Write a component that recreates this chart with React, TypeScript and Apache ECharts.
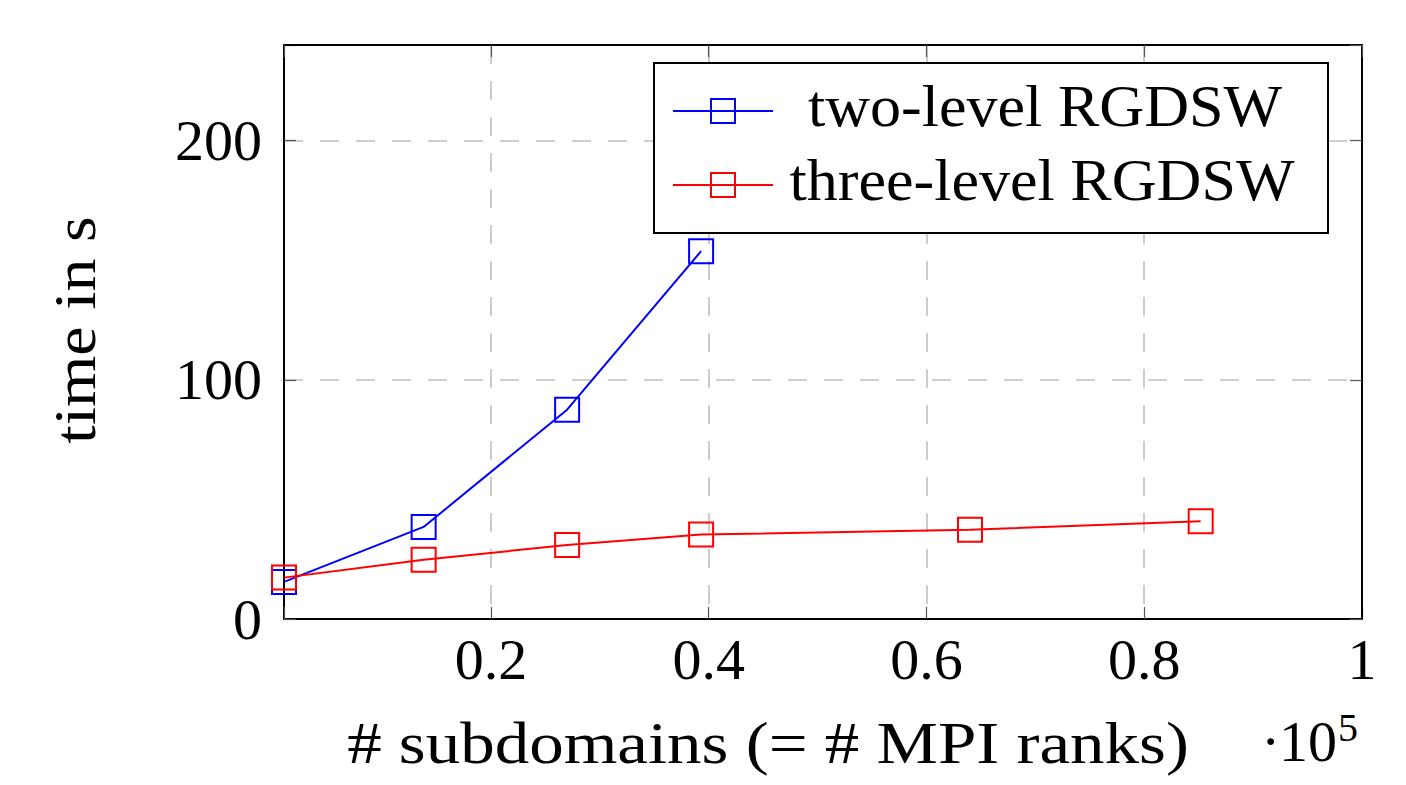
import React, { useEffect, useRef } from "react";
import * as echarts from "echarts";

// ---- data ----
const subdomainsTwoLevel = [1000, 13824, 27000, 39304];
const timeTwoLevel = [15.5, 38.5, 87.5, 153.8];
const subdomainsThreeLevel = [1000, 13824, 27000, 39304, 64000, 85184];
const timeThreeLevel = [17.3, 24.8, 30.9, 35.3, 37.3, 40.9];
const seriesNames = ["two-level RGDSW", "three-level RGDSW"];
const seriesColors = ["#0000ff", "#ff0000"];
const xAxisTitle = "# subdomains (= # MPI ranks)";
const yAxisTitle = "time in s";
const xMin = 1000;
const xMax = 100000;
const xStep = 20000;
const yMin = 0;
const yMax = 240;
const yStep = 100;

const FONT = "'Liberation Serif', 'Times New Roman', serif";

export default function App() {
  const ref = useRef<HTMLDivElement>(null);
  useEffect(() => {
    if (!ref.current) return;
    const chart = echarts.init(ref.current, undefined, { renderer: "svg" });
    const pairs = (xs: number[], ys: number[]) => xs.map((x, i) => [x, ys[i]]);
    const tick = { show: true, inside: true, length: 12, lineStyle: { color: "#555", width: 1.2 } };
    const axLine = { show: true, onZero: false, lineStyle: { color: "#000", width: 2 } };
    const grid = { show: true, lineStyle: { color: "#c0c0c0", width: 1.6, type: [19, 17] } };
    const mkSeries = (name: string, xs: number[], ys: number[], color: string) => ({
      name,
      type: "line",
      data: pairs(xs, ys),
      symbol: "rect",
      symbolSize: 24,
      showSymbol: true,
      lineStyle: { color, width: 2 },
      itemStyle: { color: "rgba(0,0,0,0)", borderColor: color, borderWidth: 2 },
      emphasis: { disabled: true },
      z: 3,
    });
    const legendRows = [111, 185];
    const legendTextCenters = [1045, 1042];
    const legendGraphics: any[] = [
      {
        type: "rect",
        shape: { x: 654, y: 63, width: 674, height: 170 },
        style: { fill: "#fff", stroke: "#000", lineWidth: 2 },
        z: 100,
      },
    ];
    seriesNames.forEach((n, i) => {
      const y = legendRows[i];
      legendGraphics.push(
        { type: "line", shape: { x1: 673, y1: y, x2: 773, y2: y }, style: { stroke: seriesColors[i], lineWidth: 2 }, z: 101 },
        { type: "rect", shape: { x: 711, y: y - 12, width: 24, height: 24 }, style: { fill: "none", stroke: seriesColors[i], lineWidth: 2 }, z: 102 },
        {
          type: "text",
          x: legendTextCenters[i],
          y: y - 5,
          scaleX: 1.035,
          style: { text: n, font: `60px ${FONT}`, fill: "#000", textAlign: "center", textVerticalAlign: "middle" },
          z: 102,
        }
      );
    });
    chart.setOption({
      animation: false,
      backgroundColor: "#fff",
      grid: { left: 284, right: 44, top: 45, bottom: 166, containLabel: false },
      xAxis: [
        {
          type: "value",
          min: xMin,
          max: xMax,
          splitNumber: 5,
          axisLine: axLine,
          axisTick: tick,
          splitLine: grid,
          axisLabel: {
            margin: 11,
            fontFamily: FONT,
            fontSize: 58,
            color: "#000",
            formatter: (v: number) => (v % xStep === 0 ? String(v / 1e5) : ""),
          },
        },
        {
          type: "value",
          position: "top",
          min: xMin,
          max: xMax,
          splitNumber: 5,
          z: 5,
          axisLine: axLine,
          axisTick: tick,
          axisLabel: { show: false },
          splitLine: { show: false },
        },
      ],
      yAxis: [
        {
          type: "value",
          min: yMin,
          max: yMax,
          interval: yStep,
          axisLine: axLine,
          axisTick: tick,
          splitLine: grid,
          axisLabel: {
            margin: 22,
            fontFamily: FONT,
            fontSize: 58,
            color: "#000",
            formatter: (v: number) => (v % yStep === 0 ? String(v) : ""),
          },
        },
        {
          type: "value",
          position: "right",
          min: yMin,
          max: yMax,
          interval: yStep,
          z: 5,
          axisLine: axLine,
          axisTick: tick,
          axisLabel: { show: false },
          splitLine: { show: false },
        },
      ],
      series: [
        mkSeries(seriesNames[0], subdomainsTwoLevel, timeTwoLevel, seriesColors[0]),
        mkSeries(seriesNames[1], subdomainsThreeLevel, timeThreeLevel, seriesColors[1]),
      ],
      graphic: [
        ...legendGraphics,
        {
          type: "text",
          x: 768,
          y: 743,
          scaleX: 1.15,
          style: { text: xAxisTitle, font: `60px ${FONT}`, fill: "#000", textAlign: "center", textVerticalAlign: "middle" },
        },
        {
          type: "text",
          x: 75,
          y: 330,
          rotation: Math.PI / 2,
          scaleX: 1.1,
          style: { text: yAxisTitle, font: `60px ${FONT}`, fill: "#000", textAlign: "center", textVerticalAlign: "middle" },
        },
        {
          type: "text",
          x: 1261,
          y: 741,
          style: { text: "·", font: `58px ${FONT}`, fill: "#000", textAlign: "left", textVerticalAlign: "middle" },
        },
        {
          type: "text",
          x: 1279,
          y: 741,
          style: { text: "10", font: `58px ${FONT}`, fill: "#000", textAlign: "left", textVerticalAlign: "middle" },
        },
        {
          type: "text",
          x: 1338,
          y: 727,
          style: { text: "5", font: `40px ${FONT}`, fill: "#000", textAlign: "left", textVerticalAlign: "middle" },
        },
      ],
    });
    return () => chart.dispose();
  }, []);
  return (
    <div
      ref={ref}
      style={{ position: "absolute", left: 0, top: 0, width: 1406, height: 785, background: "#fff" }}
    />
  );
}
